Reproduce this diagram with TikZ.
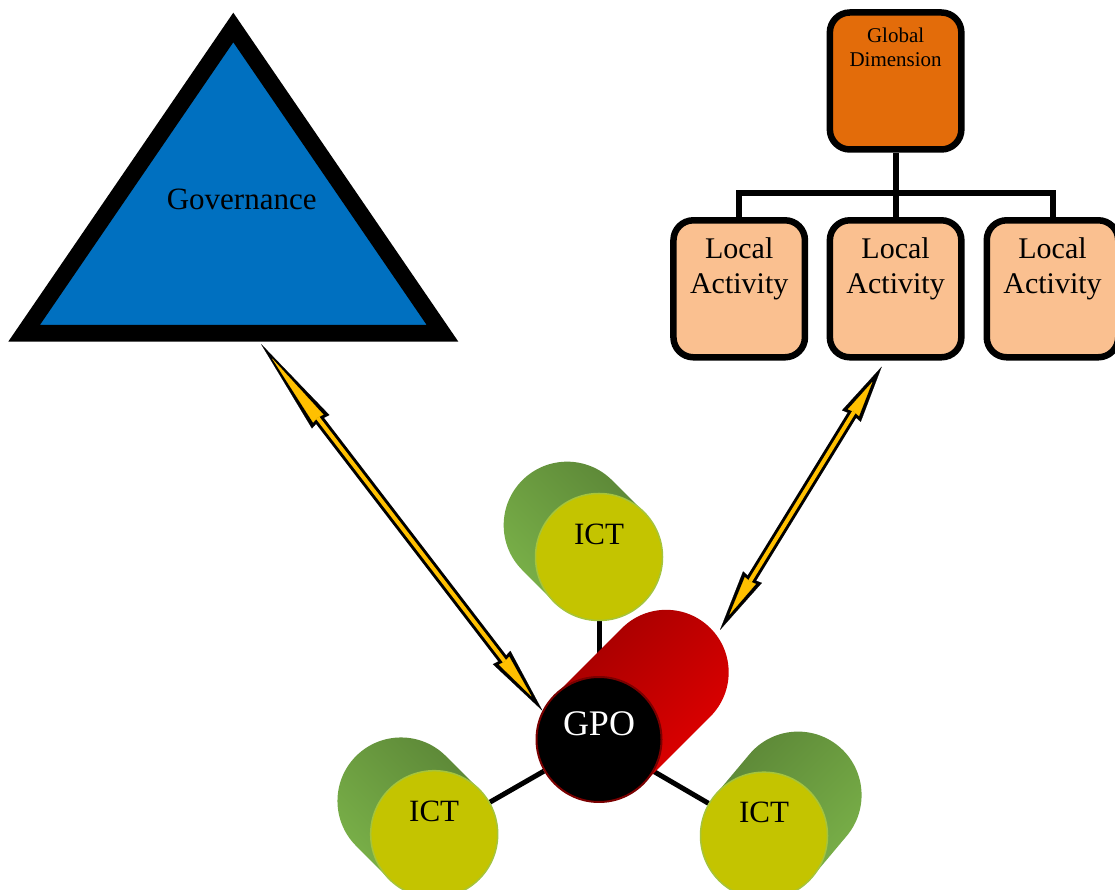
\documentclass[tikz,border=0pt]{standalone}
\usepackage{fontspec}
\setmainfont{Liberation Serif}
\usetikzlibrary{arrows.meta}
\pgfdeclarelayer{background}
\pgfsetlayers{background,main}

\definecolor{govblue}{HTML}{0070C0}
\definecolor{gdorange}{HTML}{E36C0A}
\definecolor{lapeach}{HTML}{FAC090}
\definecolor{ictyellow}{HTML}{C4C400}
\definecolor{ictrim}{HTML}{A6C43A}
\definecolor{greendark}{HTML}{5A8436}
\definecolor{greenmid}{HTML}{6C9E40}
\definecolor{greenlight}{HTML}{7CB44A}
\definecolor{reddark}{HTML}{9E0000}
\definecolor{redmid}{HTML}{CC0000}
\definecolor{redlight}{HTML}{E60000}
\definecolor{gporim}{HTML}{7A0000}
\definecolor{arrowyellow}{HTML}{FFC000}

\begin{document}
\begin{tikzpicture}[x=1pt, y=1pt,
    govtri/.style={draw=black, fill=govblue, line width=16.7, line join=miter},
    orgbox/.style={draw=black, line width=6.5, rounded corners=20, minimum width=131.5, minimum height=137, inner sep=0},
    orglabel/.style={anchor=north, inner sep=0, align=center},
    orgline/.style={line width=6, line join=miter},
    ictface/.style={circle, minimum size=127, inner sep=0, fill=ictyellow, draw=ictrim, line width=1.5},
    ictlabel/.style={yshift=23, font=\fontsize{31}{35}\selectfont},
    gpoface/.style={circle, minimum size=125, inner sep=0, fill=black, draw=gporim, line width=2},
    gpolabel/.style={yshift=16, text=white, font=\fontsize{36}{40}\selectfont},
    link/.style={line width=5},
    arrowcase/.style 2 args={draw=black, line width=10,
        {Stealth[length=#1, width=22, inset=2, line width=0.1]}-{Stealth[length=#2, width=22, inset=2, line width=0.1]}},
    arrowcore/.style 2 args={draw=arrowyellow, line width=4, shorten <=18, shorten >=18,
        {Stealth[length=#1, width=13, inset=1, line width=0.1]}-{Stealth[length=#2, width=13, inset=1, line width=0.1]}}]

\useasboundingbox (0,0) rectangle (1115,890);

% governance
\draw[govtri] (233.3,862.5) -- (24.1,556.7) -- (442.5,556.7) -- cycle;
\node[anchor=base, font=\fontsize{31}{35}\selectfont] (gov) at (241.7,680) {Governance};

% global dimension and local activities
\node[orgbox, fill=gdorange, label={[orglabel, yshift=-18.4, font=\fontsize{21}{24}\selectfont]north:{Global\\Dimension}}] (gd) at (895.6,809) {};
\foreach \i/\x in {1/739.2, 2/895.6, 3/1052.5}
  \node[orgbox, fill=lapeach, label={[orglabel, yshift=-20.5, font=\fontsize{30}{35}\selectfont]north:{Local\\Activity}}] (la\i) at (\x,601.2) {};
\draw[orgline] (gd) -- (la2);
\draw[orgline] (la1.north) -- ++(0,24) -| (la3.north);

% cylinders
\node[ictface, label={[ictlabel]center:ICT}] (ict1) at (599,333) {};
\node[ictface, label={[ictlabel]center:ICT}] (ict2) at (434.2,55.8) {};
\node[ictface, label={[ictlabel]center:ICT}] (ict3) at (764,54.3) {};
\node[gpoface, label={[gpolabel]center:GPO}] (gpo) at (599,150.5) {};

\begin{pgfonlayer}{background}
  \fill[white] (0,0) rectangle (1115,890);
  \draw[link] (gpo) -- (ict1);
  \draw[link] (gpo) -- (ict2);
  \draw[link] (gpo) -- (ict3);
  \foreach \f/\a/\l/\s in {ict1/135/45/-45, ict2/135/47/-45, ict3/50/53/45}
    \shade[top color=greendark, middle color=greenmid, bottom color=greenlight, shading angle=\s]
      (\f.center) ++(\a-90:63.5) -- ++(\a:\l) arc[start angle=\a-90, end angle=\a+90, radius=63.5]
      -- ++(\a+180:\l) arc[start angle=\a+90, end angle=\a+270, radius=63.5] -- cycle;
  \shade[top color=reddark, middle color=redmid, bottom color=redlight, shading angle=45]
    (gpo.center) ++(-45:62.5) -- ++(45:95) arc[start angle=-45, end angle=135, radius=62.5]
    -- ++(225:95) arc[start angle=135, end angle=315, radius=62.5] -- cycle;
\end{pgfonlayer}

% arrows
\coordinate (govtip) at (261,546);
\coordinate (latip) at (881.7,523.3);
\coordinate (redtip) at (720,260);
\draw[arrowcase={98}{67}] (govtip) -- (gpo.153);
\draw[arrowcore={76}{45}] (govtip) -- (gpo.153);
\draw[arrowcase={58}{62}] (latip) -- (redtip);
\draw[arrowcore={36}{40}] (latip) -- (redtip);
\end{tikzpicture}
\end{document}
